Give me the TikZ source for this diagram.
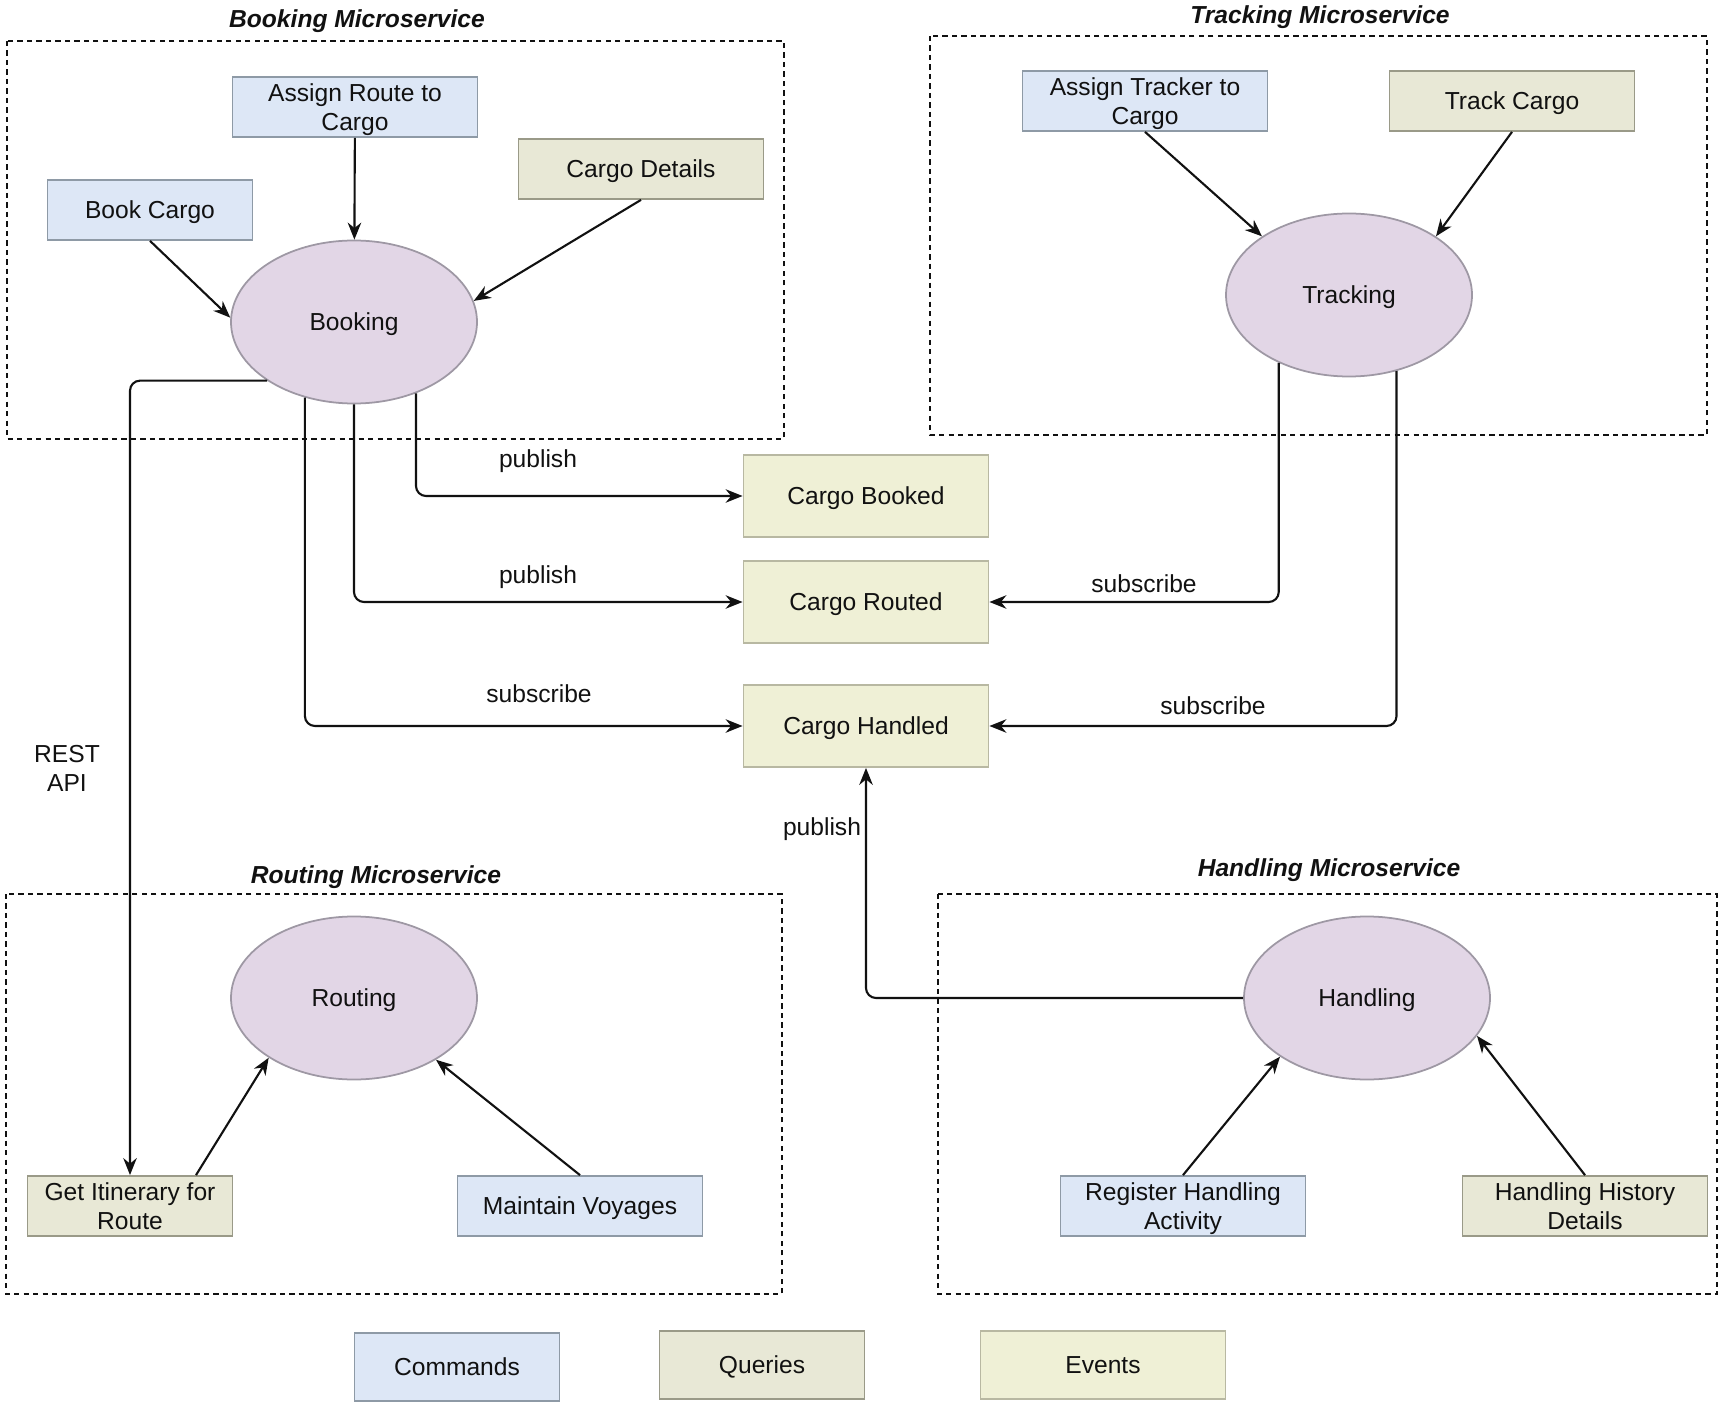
\documentclass[tikz,border=0pt]{standalone}
\usepackage{fontspec}
\setmainfont{Liberation Sans}
\usepackage{tikz}
\usetikzlibrary{arrows.meta,positioning,calc,shapes.geometric}
\definecolor{ink}    {HTML}{111111}
\definecolor{cmdfill}{HTML}{DDE7F6}
\definecolor{cmdline}{HTML}{8E9AA6}
\definecolor{qryfill}{HTML}{E8E8D6}
\definecolor{qryline}{HTML}{9A9A88}
\definecolor{evtfill}{HTML}{EFF0D6}
\definecolor{evtline}{HTML}{B8B8A2}
\definecolor{svcfill}{HTML}{E2D6E6}
\definecolor{svcline}{HTML}{9E98A4}
\tikzset{
  basenode/.style={
    rectangle, line width=1pt,
    text=ink, font=\fontsize{14}{16.5}\selectfont, align=center,
    text depth=0pt
  },
  cmdnode/.style={basenode, draw=cmdline, fill=cmdfill,
    minimum width=49mm, minimum height=12mm},
  qrynode/.style={basenode, draw=qryline, fill=qryfill,
    minimum width=49mm, minimum height=12mm},
  evtnode/.style={basenode, draw=evtline, fill=evtfill,
    minimum width=49mm, minimum height=16.4mm},
  svcnode/.style={
    ellipse, draw=svcline, fill=svcfill, line width=1pt,
    minimum width=49.2mm, minimum height=32.6mm,
    text=ink, font=\fontsize{14}{16.5}\selectfont, text depth=0pt
  },
  flowarrow/.style={
    -{Stealth[length=3.4mm, width=2.7mm, inset=1.1mm]},
    line width=1.2pt, draw=ink, rounded corners=2mm
  },
  flowlabel/.style={font=\fontsize{14}{16.5}\selectfont, text=ink, align=center},
  svcbox/.style={draw=ink, line width=1.2pt, dash pattern=on 3pt off 2.4pt},
  svctitle/.style={font=\fontsize{14}{16.5}\selectfont\bfseries\itshape, text=ink}
}

\begin{document}
\begin{tikzpicture}[
          x=0.2mm, y=-0.2mm,
          smallcmd/.style={cmdnode, minimum width=41mm},
          smallqry/.style={qrynode, minimum width=41mm}
        ]
        \useasboundingbox (0,0) rectangle (1725,1408);
        % service boundaries
        \draw[svcbox] (7,41) rectangle (784,439);
        \draw[svcbox] (930,36) rectangle (1707,435);
        \draw[svcbox] (6,894) rectangle (782,1294);
        \draw[svcbox] (938,894) rectangle (1717,1294);
        \node[svctitle] (bktitle) at (357,21) {Booking Microservice};
        \node[svctitle] (trtitle) at (1320,17) {Tracking Microservice};
        \node[svctitle] (rttitle) at (376,877) {Routing Microservice};
        \node[svctitle] (hdtitle) at (1329,870) {Handling Microservice};

        % booking
        \node[svcnode] (booking) at (354,322) {Booking};
        \node[cmdnode] (assignroute) at (355,107) {Assign Route to\\Cargo};
        \node[smallcmd] (bookcargo) at (150,210) {Book Cargo};
        \node[qrynode] (cargodetails) at (641,169) {Cargo Details};
        \draw[flowarrow] (bookcargo.south) -- (booking.178);
        \draw[flowarrow] (assignroute) -- (booking);
        \draw[flowarrow] (cargodetails.south) -- (booking.10);

        % tracking
        \node[svcnode] (tracking) at (1349,295) {Tracking};
        \node[cmdnode] (assigntracker) at (1145,101) {Assign Tracker to\\Cargo};
        \node[qrynode] (trackcargo) at (1512,101) {Track Cargo};
        \draw[flowarrow] (assigntracker.south) -- (tracking.146);
        \draw[flowarrow] (trackcargo.south) -- (tracking.34);

        % events
        \node[evtnode] (cargobooked) at (866,496) {Cargo Booked};
        \node[evtnode] (cargorouted) at (866,602) {Cargo Routed};
        \node[evtnode] (cargohandled) at (866,726) {Cargo Handled};

        % routing
        \node[svcnode] (routing) at (354,998) {Routing};
        \node[smallqry] (getitinerary) at (130,1206) {Get Itinerary for\\Route};
        \node[cmdnode] (maintainvoyages) at (580,1206) {Maintain Voyages};
        \draw[flowarrow] ($(getitinerary.north)+(66,0)$) -- (routing.215);
        \draw[flowarrow] (maintainvoyages.north) -- (routing.323);

        % handling
        \node[svcnode] (handling) at (1367,998) {Handling};
        \node[cmdnode] (registerhandling) at (1183,1206) {Register Handling\\Activity};
        \node[qrynode] (handlinghistory) at (1585,1206) {Handling History\\Details};
        \draw[flowarrow] (registerhandling.north) -- (handling.214);
        \draw[flowarrow] (handlinghistory.north) -- (handling.341);

        % publish / subscribe
        \draw[flowarrow] (booking.311) |- (cargobooked.west);
        \draw[flowarrow] (booking.south) |- (cargorouted.west);
        \draw[flowarrow] (booking.237) |- (cargohandled.west);
        \draw[flowarrow] (tracking.224) |- (cargorouted.east);
        \draw[flowarrow] (tracking.302) |- (cargohandled.east);
        \draw[flowarrow] (handling.west) -| (cargohandled.south);
        \draw[flowarrow] (booking.214) -| (getitinerary.north);
        \node[flowlabel] (pub1) at (538,461) {publish};
        \node[flowlabel] (pub2) at (538,577) {publish};
        \node[flowlabel] (sub1) at (539,694) {subscribe};
        \node[flowlabel] (sub2) at (1144,584) {subscribe};
        \node[flowlabel] (sub3) at (1213,706) {subscribe};
        \node[flowlabel] (pub3) at (822,829) {publish};
        \node[flowlabel] (restapi) at (67,768) {REST\\API};

        % legend
        \node[smallcmd, minimum height=13.6mm] (legcmd) at (457,1367) {Commands};
        \node[smallqry, minimum height=13.6mm] (legqry) at (762,1365) {Queries};
        \node[evtnode, minimum height=13.6mm] (legevt) at (1103,1365) {Events};
      \end{tikzpicture}
\end{document}
